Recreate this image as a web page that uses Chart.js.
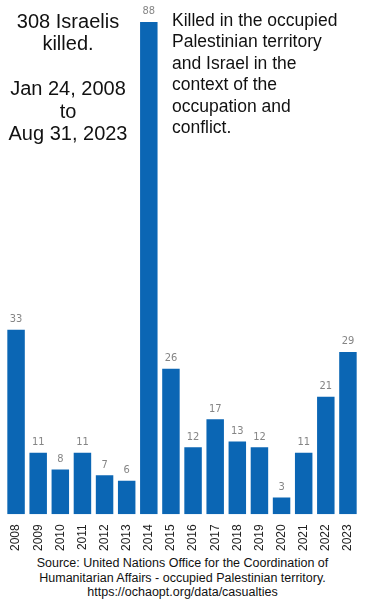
<!DOCTYPE html>
<html>
<head>
<meta charset="utf-8">
<script src="https://cdn.jsdelivr.net/npm/chart.js@4/dist/chart.umd.min.js"></script>
<style>
  html, body { margin: 0; padding: 0; background: #fff; }
  #wrap { position: relative; width: 365px; height: 600px; font-family: "Liberation Sans", Arial, sans-serif; color: #111; }
  #chart { position: absolute; left: 0; top: 0; }
  .note { position: absolute; }
  #left { left: 0; top: 10px; width: 136px; text-align: center; font-size: 20px; line-height: 22.4px; }
  #right { left: 172px; top: 10px; font-size: 17.5px; line-height: 21.4px; }
  #source { left: 0; top: 556px; width: 365px; text-align: center; font-size: 12.5px; line-height: 14.5px; }
</style>
</head>
<body>
<div id="wrap">
  <canvas id="chart" width="365" height="553"></canvas>
  <div class="note" id="left">308 Israelis<br>killed.<br><br>Jan 24, 2008<br>to<br>Aug 31, 2023</div>
  <div class="note" id="right">Killed in the occupied<br>Palestinian territory<br>and Israel in the<br>context of the<br>occupation and<br>conflict.</div>
  <div class="note" id="source">Source: United Nations Office for the Coordination of<br>Humanitarian Affairs - occupied Palestinian territory.<br>https://ochaopt.org/data/casualties</div>
</div>
<script>
const years = ['2008', '2009', '2010', '2011', '2012', '2013', '2014', '2015',
  '2016', '2017', '2018', '2019', '2020', '2021', '2022', '2023']
const killed = [33, 11, 8, 11, 7, 6, 88, 26, 12, 17, 13, 12, 3, 11, 21, 29]

// value above every bar
const valueLabels = {
  id: 'valueLabels',
  afterDatasetsDraw(chart) {
    const ctx = chart.ctx
    const meta = chart.getDatasetMeta(0)
    ctx.save()
    ctx.font = '11px "DejaVu Sans Condensed", "Liberation Sans Narrow", sans-serif'
    ctx.fillStyle = '#858585'
    ctx.textAlign = 'center'
    ctx.textBaseline = 'bottom'
    meta.data.forEach((bar, i) => {
      ctx.fillText(killed[i], bar.x, bar.y - 5)
    })
    ctx.restore()
  }
}

const ctx = document.querySelector('#chart').getContext('2d')
const myChart = new Chart(ctx, {
  type: 'bar',
  data: {
    labels: years,
    datasets: [{
      label: 'Israelis killed',
      data: killed,
      backgroundColor: '#0b66b4',
      categoryPercentage: 1,
      barPercentage: 0.79
    }]
  },
  options: {
    responsive: false,
    animation: false,
    layout: { padding: { left: 5, right: 6, top: 22, bottom: 0 } },
    plugins: {
      legend: { display: false },
      tooltip: { enabled: false }
    },
    scales: {
      x: {
        grid: { display: false },
        border: { display: false },
        ticks: {
          minRotation: 90,
          maxRotation: 90,
          padding: 2,
          color: '#222',
          font: { family: '"Liberation Sans", Arial, sans-serif', size: 12 }
        }
      },
      y: {
        display: false,
        beginAtZero: true,
        max: 88
      }
    }
  },
  plugins: [valueLabels]
})
</script>
</body>
</html>
